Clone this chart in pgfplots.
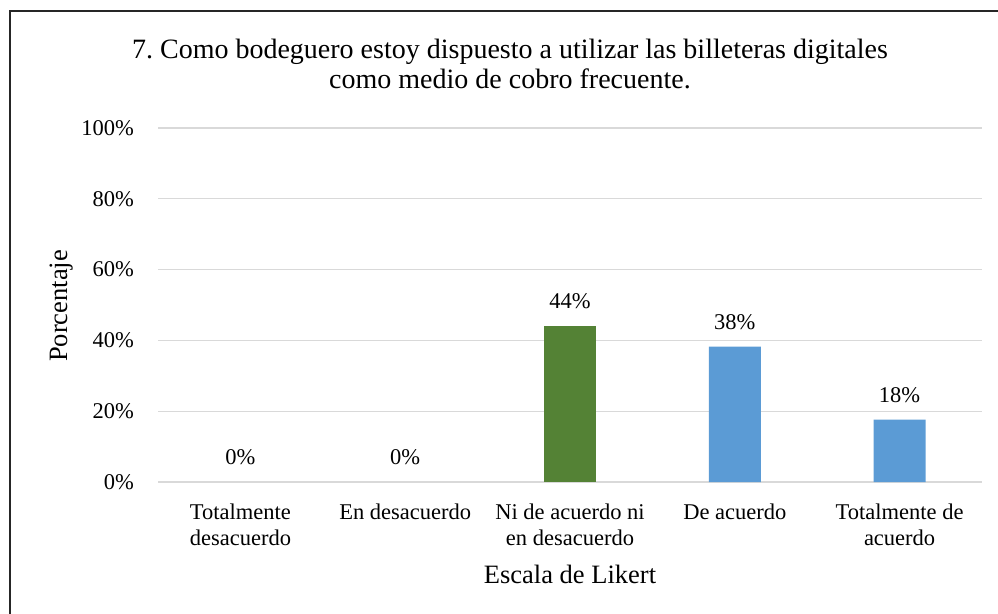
\documentclass[border=0pt]{standalone}
\usepackage{fontspec}
\setmainfont{Liberation Serif}
\usepackage{pgfplots}
\pgfplotsset{compat=1.18}
\definecolor{bargreen}{HTML}{548235}
\definecolor{barblue}{HTML}{5B9BD5}
\definecolor{gridgray}{HTML}{D9D9D9}
\begin{document}
\begin{tikzpicture}[x=1pt,y=1pt]
\path[use as bounding box] (0,0) rectangle (998,613);
\clip (0,0) rectangle (998,613);
\draw[line width=2pt, color=black!85] (10,-10) -- (10,602) -- (998,602);
\node[anchor=base, font=\rmfamily\fontsize{28}{30}\selectfont] at (510,554) {7.\ Como bodeguero estoy dispuesto a utilizar las billeteras digitales};
\node[anchor=base, font=\rmfamily\fontsize{28}{30}\selectfont] at (510,524) {como medio de cobro frecuente.};
\node[anchor=base, rotate=90, font=\rmfamily\fontsize{26.5}{30}\selectfont] at (67,307) {Porcentaje};
\begin{axis}[
  at={(158pt,131pt)}, anchor=south west,
  scale only axis, width=824pt, height=354pt,
  xmin=-0.5, xmax=4.5, ymin=0, ymax=100,
  axis line style={draw=none}, major tick style={draw=none},
  ymajorgrids, grid style={gridgray, line width=1.3pt},
  ytick={0,20,...,100},
  yticklabel={\pgfmathprintnumber{\tick}\%},
  xtick={0,...,4},
  xticklabels={{Totalmente\\desacuerdo},{En desacuerdo},{Ni de acuerdo ni\\en desacuerdo},{De acuerdo},{Totalmente de\\acuerdo}},
  xticklabel style={align=center, anchor=north, inner sep=0pt, yshift=-17pt, font=\rmfamily\fontsize{22.5}{26}\selectfont},
  yticklabel style={anchor=east, inner sep=0pt, xshift=-24pt, font=\rmfamily\fontsize{22.5}{26}\selectfont},
  /pgf/number format/assume math mode=true,
  ybar, bar width=52pt,
  nodes near coords={\pgfmathprintnumber[fixed,precision=0]{\pgfplotspointmeta}\%},
  every node near coord/.append style={anchor=base, inner sep=0pt, yshift=17pt, font=\rmfamily\fontsize{22.5}{26}\selectfont, text=black},
  xlabel={Escala de Likert},
  xlabel style={at={(axis description cs:0.5,0)}, anchor=base, yshift=-101pt, font=\rmfamily\fontsize{26.5}{30}\selectfont},
  clip=false,
]
\addplot[bar shift=0pt, draw=none, fill=none] coordinates {(0,0) (1,0)};
\addplot[bar shift=0pt, draw=none, fill=bargreen] coordinates {(2,44.12)};
\addplot[bar shift=0pt, draw=none, fill=barblue] coordinates {(3,38.24) (4,17.65)};
\end{axis}
\end{tikzpicture}
\end{document}
